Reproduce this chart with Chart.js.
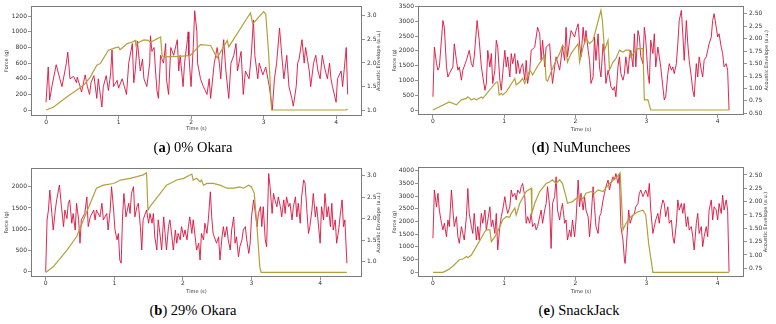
<!DOCTYPE html>
<html><head><meta charset="utf-8">
<script src="https://cdn.jsdelivr.net/npm/chart.js@4.4.1/dist/chart.umd.min.js"></script>
<style>
body{margin:0;width:776px;height:324px;background:#fff;position:relative;overflow:hidden}
.panel{position:absolute}
.cap{position:absolute;width:200px;font-family:"Liberation Serif",serif;font-size:14.5px;line-height:15px;text-align:center;color:#000;white-space:nowrap}
</style></head><body>
<div class="panel" style="left:0;top:0"><canvas id="cA" width="390" height="140"></canvas></div>
<div class="panel" style="left:390px;top:0"><canvas id="cD" width="386" height="140"></canvas></div>
<div class="panel" style="left:0;top:160px"><canvas id="cB" width="390" height="140"></canvas></div>
<div class="panel" style="left:390px;top:160px"><canvas id="cE" width="386" height="140"></canvas></div>
<div class="cap" style="left:93px;top:139.6px">(<b>a</b>) 0% Okara</div>
<div class="cap" style="left:481px;top:139.6px">(<b>d</b>) NuMunchees</div>
<div class="cap" style="left:93px;top:302.6px">(<b>b</b>) 29% Okara</div>
<div class="cap" style="left:479px;top:302.6px">(<b>e</b>) SnackJack</div>
<script>
// ---- tick labels ----
const timeTicks=[0,1,2,3,4];
const forceTicksA=[0,200,400,600,800,1000,1200];
const acousticTicksA=[1.0,1.5,2.0,2.5,3.0];
const forceTicksD=[0,500,1000,1500,2000,2500,3000,3500];
const acousticTicksD=[0.50,0.75,1.00,1.25,1.50,1.75,2.00,2.25,2.50];
const forceTicksB=[0,500,1000,1500,2000];
const acousticTicksB=[1.0,1.5,2.0,2.5,3.0];
const forceTicksE=[0,500,1000,1500,2000,2500,3000,3500,4000];
const acousticTicksE=[0.75,1.00,1.25,1.50,1.75,2.00,2.25,2.50];

// ---- (a) 0% Okara ----
const tA=[0,0.03,0.05,0.08,0.14,0.19,0.22,0.28,0.30,0.33,0.38,0.42,0.43,0.47,0.49,0.54,0.57,0.60,0.62,0.66,0.70,0.72,0.77,0.79,0.83,0.86,0.89,0.91,0.93,0.98,1.00,1.05,1.08,1.11,1.14,1.19,1.21,1.23,1.26,1.30,1.33,1.35,1.39,1.43,1.44,1.46,1.49,1.51,1.53,1.55,1.58,1.62,1.65,1.66,1.69,1.72,1.76,1.81,1.83,1.85,1.89,1.91,1.95,1.96,1.97,2.00,2.03,2.05,2.08,2.09,2.13,2.17,2.22,2.25,2.27,2.32,2.36,2.39,2.41,2.43,2.45,2.48,2.52,2.55,2.59,2.62,2.64,2.69,2.72,2.75,2.80,2.83,2.86,2.88,2.92,2.94,2.99,3.03,3.08,3.10,3.12,3.15,3.18,3.22,3.26,3.28,3.32,3.35,3.39,3.41,3.45,3.47,3.49,3.53,3.56,3.58,3.63,3.65,3.69,3.72,3.75,3.78,3.81,3.84,3.88,3.91,3.93,3.95,4.00,4.02,4.07,4.09,4.14,4.16];
const forceA=[100,550,130,300,580,400,300,600,740,400,430,350,420,300,230,450,300,200,350,440,150,400,40,300,440,250,460,770,300,380,280,400,300,200,600,850,350,500,880,500,650,400,300,600,950,750,800,500,250,150,700,600,850,400,200,800,700,900,500,700,300,600,900,1000,700,300,800,1270,1000,600,400,300,200,400,150,600,800,600,400,700,900,500,150,600,700,850,500,750,200,500,400,700,1150,700,400,600,450,550,300,150,0,400,600,1050,600,400,700,300,150,50,300,600,650,900,600,800,500,300,600,700,500,400,700,550,400,600,400,300,100,400,500,300,800,200];
const taA=[0,0.10,0.29,0.42,0.52,0.61,0.70,0.75,0.86,0.95,1.00,1.02,1.12,1.18,1.23,1.24,1.28,1.35,1.41,1.44,1.58,1.60,1.62,1.85,1.99,2.13,2.27,2.34,2.36,2.50,2.52,2.59,2.78,2.82,2.85,3.00,3.03,3.07,3.11,4.14,4.16];
const acousticA=[1.0,1.06,1.28,1.42,1.53,1.70,1.95,1.99,2.27,2.32,2.34,2.28,2.41,2.44,2.48,2.37,2.44,2.49,2.48,2.44,2.55,2.16,2.13,2.14,2.16,2.39,2.37,2.16,2.11,2.48,2.34,2.51,2.97,3.06,2.83,3.09,3.04,2.2,1.0,1.0,1.02];

// ---- (d) NuMunchees ----
const tD=[0,0.02,0.05,0.07,0.09,0.14,0.16,0.19,0.21,0.23,0.28,0.30,0.33,0.35,0.37,0.40,0.42,0.47,0.51,0.54,0.56,0.58,0.62,0.65,0.68,0.73,0.75,0.77,0.80,0.82,0.84,0.87,0.89,0.91,0.94,0.96,0.98,1.01,1.03,1.05,1.08,1.10,1.12,1.15,1.17,1.19,1.22,1.24,1.26,1.29,1.31,1.33,1.36,1.38,1.43,1.47,1.50,1.52,1.54,1.57,1.59,1.64,1.66,1.68,1.71,1.73,1.78,1.82,1.85,1.87,1.89,1.92,1.94,1.99,2.01,2.04,2.06,2.08,2.11,2.13,2.15,2.18,2.20,2.22,2.25,2.27,2.29,2.32,2.34,2.36,2.39,2.41,2.43,2.46,2.48,2.50,2.53,2.55,2.57,2.60,2.62,2.64,2.67,2.69,2.71,2.74,2.76,2.78,2.81,2.83,2.85,2.88,2.90,2.92,2.95,2.97,2.99,3.02,3.04,3.06,3.09,3.11,3.13,3.16,3.18,3.20,3.23,3.25,3.27,3.30,3.32,3.35,3.37,3.39,3.42,3.44,3.46,3.49,3.51,3.53,3.56,3.58,3.60,3.63,3.65,3.67,3.70,3.72,3.74,3.77,3.79,3.81,3.84,3.86,3.88,3.91,3.93,3.95,3.98,4.00,4.02,4.05,4.07,4.09,4.12,4.14,4.16];
const forceD=[450,2130,1570,1350,1460,3030,2800,1460,1120,1230,1460,2240,1680,1350,1460,1010,1350,1680,2020,1570,1460,1800,3030,2360,1460,670,900,2020,1460,1910,900,1350,2360,2130,1010,670,1230,2020,1460,1800,1120,1910,1570,1910,1230,1680,1230,1460,1570,1010,1680,900,1350,2020,2130,2800,2580,1680,2360,1460,2130,2240,1460,900,1460,1800,1350,2130,1680,2800,1800,2360,2690,2470,2690,2920,2240,1800,2800,2240,2690,2020,1680,900,1120,2470,1680,2580,1460,1120,2240,1800,900,1350,1120,790,670,790,450,1460,1800,1230,1010,1230,1800,1230,1800,2020,1460,2580,1460,2690,2470,1800,1570,2800,2360,1230,900,2360,1910,2580,1460,2130,1800,1460,790,340,450,1230,1570,1350,1460,1230,1570,2240,3030,3370,2580,1680,3030,2240,1680,1120,670,450,1570,1120,1800,1350,1120,1680,1800,2020,2240,2470,3030,3260,2800,2470,2580,2130,1910,1460,1570,1350,0];
const taD=[0,0.23,0.33,0.40,0.47,0.49,0.54,0.58,0.61,0.68,0.70,0.89,0.91,0.93,0.96,0.98,1.03,1.15,1.17,1.22,1.26,1.29,1.36,1.38,1.40,1.45,1.57,1.59,1.61,1.66,1.71,1.78,1.82,1.87,1.89,1.94,2.04,2.06,2.11,2.15,2.20,2.25,2.36,2.38,2.41,2.46,2.48,2.53,2.57,2.60,2.62,2.67,2.71,2.76,2.78,2.83,2.88,2.95,2.97,3.02,3.06,4.16];
const acousticD=[0.567,0.73,0.67,0.77,0.8,0.83,0.77,0.8,0.77,0.83,0.8,1.13,1.13,0.87,0.9,0.87,0.93,1.2,1.07,1.13,1.2,1.1,1.37,1.33,1.27,1.4,1.67,1.17,1.15,1.33,1.5,1.7,1.87,1.77,1.53,1.7,1.9,1.53,1.83,2.0,1.9,1.97,2.57,2.37,1.77,1.97,1.37,1.53,1.6,1.7,1.77,1.73,1.77,1.77,1.63,1.73,1.8,1.8,0.77,0.77,0.567,0.567];

// ---- (b) 29% Okara ----
const tB=[0,0.02,0.04,0.06,0.09,0.11,0.14,0.16,0.20,0.23,0.26,0.28,0.31,0.33,0.35,0.38,0.40,0.43,0.45,0.48,0.50,0.52,0.57,0.60,0.62,0.65,0.70,0.72,0.74,0.79,0.82,0.84,0.89,0.91,0.94,0.96,0.99,1.01,1.04,1.06,1.08,1.10,1.12,1.14,1.17,1.21,1.23,1.25,1.28,1.30,1.33,1.35,1.38,1.40,1.42,1.47,1.50,1.52,1.55,1.57,1.59,1.62,1.64,1.67,1.69,1.72,1.74,1.76,1.79,1.81,1.84,1.86,1.89,1.91,1.93,1.96,1.98,2.01,2.03,2.06,2.08,2.10,2.13,2.15,2.20,2.23,2.25,2.27,2.30,2.32,2.35,2.37,2.40,2.42,2.44,2.49,2.52,2.54,2.57,2.59,2.61,2.64,2.66,2.69,2.71,2.74,2.76,2.78,2.81,2.83,2.86,2.88,2.91,2.93,2.96,2.98,3.00,3.03,3.05,3.08,3.10,3.13,3.15,3.17,3.20,3.22,3.25,3.27,3.30,3.32,3.34,3.37,3.39,3.42,3.44,3.47,3.49,3.51,3.54,3.56,3.59,3.61,3.64,3.66,3.68,3.71,3.73,3.76,3.78,3.81,3.83,3.85,3.88,3.90,3.93,3.95,4.00,4.02,4.05,4.07,4.10,4.12,4.15,4.17,4.19,4.22,4.24,4.27,4.29,4.32,4.34,4.36,4.39];
const forceB=[0,1216,1450,1920,1370,980,1450,1690,2040,1530,1060,1450,1250,1610,1690,1140,1370,980,1610,1220,670,1220,1370,1760,1060,1290,1450,1220,1450,1290,1610,1220,1370,980,1450,2000,1450,980,750,900,275,200,1290,1840,1290,1610,1370,1840,2000,1290,1530,1610,1060,510,1220,1450,1140,1370,1140,1370,820,510,1220,820,510,1290,900,510,1060,1220,820,510,980,670,900,750,1060,820,980,750,1060,1290,900,1220,510,670,275,900,750,1140,900,1220,1880,1290,900,670,820,275,820,1060,820,1060,750,510,980,1290,670,820,350,590,750,980,1060,750,430,670,1290,1690,1450,1060,1370,1530,1060,1530,750,590,2310,2000,1370,1840,1690,1530,1760,1530,1290,1690,1370,1760,1530,1610,1220,1530,1760,1290,1610,1140,1760,2160,2080,1370,900,1060,1450,1840,1290,1530,670,1530,1220,1840,1290,1530,1060,1610,980,1220,670,980,1290,1690,1060,1220,200];
const taB=[0,0.11,0.31,0.45,0.55,0.65,0.74,0.84,0.99,1.09,1.23,1.33,1.42,1.47,1.49,1.52,1.67,1.76,1.91,2.01,2.13,2.15,2.20,2.25,2.27,2.30,2.35,2.44,2.54,2.64,2.74,2.83,2.88,2.96,3.00,3.04,3.08,3.12,3.14,4.39];
const acousticB=[0.75,0.88,1.27,1.58,1.97,2.36,2.71,2.78,2.82,2.9,2.94,2.98,3.02,3.07,2.2,2.28,2.59,2.78,2.9,2.94,3.04,2.9,2.94,2.86,2.9,2.78,2.82,2.82,2.78,2.71,2.71,2.74,2.71,2.78,2.74,2.59,1.81,0.88,0.75,0.75];

// ---- (e) SnackJack ----
const tE=[0,0.02,0.05,0.07,0.09,0.12,0.14,0.16,0.19,0.21,0.23,0.26,0.28,0.30,0.33,0.35,0.37,0.40,0.42,0.44,0.47,0.49,0.51,0.54,0.56,0.58,0.61,0.63,0.65,0.68,0.70,0.73,0.75,0.80,0.82,0.84,0.87,0.89,0.91,0.94,0.96,0.98,1.01,1.03,1.05,1.08,1.10,1.12,1.15,1.17,1.19,1.22,1.24,1.26,1.29,1.31,1.33,1.36,1.38,1.40,1.43,1.45,1.47,1.52,1.54,1.57,1.59,1.61,1.64,1.66,1.68,1.71,1.73,1.75,1.78,1.80,1.82,1.85,1.87,1.89,1.92,1.94,1.96,1.99,2.01,2.04,2.06,2.08,2.11,2.13,2.15,2.18,2.20,2.22,2.25,2.27,2.29,2.32,2.34,2.36,2.39,2.41,2.43,2.46,2.48,2.50,2.53,2.55,2.57,2.60,2.62,2.64,2.67,2.69,2.70,2.72,2.75,2.77,2.80,2.83,2.85,2.88,2.90,2.92,2.95,2.97,2.99,3.02,3.04,3.06,3.09,3.11,3.13,3.16,3.18,3.20,3.23,3.25,3.27,3.30,3.32,3.35,3.37,3.39,3.42,3.44,3.46,3.49,3.51,3.53,3.56,3.58,3.60,3.63,3.65,3.67,3.70,3.72,3.74,3.77,3.79,3.81,3.84,3.86,3.88,3.91,3.93,3.95,3.98,4.00,4.02,4.05,4.07,4.09,4.12,4.14,4.16];
const forceE=[1340,3240,2580,3110,2450,1930,1670,1930,1400,2060,1800,3240,2450,1800,2190,1400,1140,1800,1530,1270,2190,3300,2320,1800,1530,2320,1270,1800,1270,2320,1930,2450,1670,2580,1800,2060,1530,2320,880,1800,2190,2450,2980,2580,2320,2580,3240,2980,3110,2850,3240,3110,3370,3500,2980,1930,2190,1930,2320,1800,1930,1670,1800,2450,1930,2450,2710,3370,2580,940,2710,2980,3760,2450,2060,2450,2710,1930,2060,1270,1670,1400,2060,1400,2060,3630,2580,3110,2450,2980,2450,2190,1400,2060,3370,2580,1800,1530,2190,2320,2850,3110,3370,3630,3240,3500,3760,3630,3890,3500,3890,1800,1270,485,350,1140,2450,1930,2190,2320,2580,2710,3110,3240,2980,3110,3240,2980,3500,2450,1530,1800,2060,2320,1930,2450,2850,2710,2190,2580,1930,2060,1400,1140,1930,2850,2450,2710,2320,2710,1800,2190,1670,1800,1400,880,1930,2320,1530,1800,1010,1400,1800,1400,2450,2850,2060,2580,2450,2060,2710,2320,3040,2450,2850,2450,26];
const taE=[0,0.14,0.21,0.28,0.37,0.42,0.47,0.49,0.54,0.58,0.65,0.73,0.75,0.80,0.82,0.87,0.94,0.98,1.03,1.08,1.10,1.15,1.17,1.22,1.31,1.38,1.39,1.43,1.50,1.59,1.64,1.68,1.73,1.78,1.82,1.87,1.89,1.96,2.01,2.06,2.11,2.15,2.22,2.27,2.32,2.39,2.48,2.57,2.63,2.67,2.71,2.76,2.81,2.88,2.95,2.99,3.03,3.09,4.16];
const acousticE=[0.675,0.675,0.72,0.79,0.91,0.925,0.97,0.95,1.0,1.09,1.25,1.44,1.47,1.47,1.25,1.34,1.53,1.66,1.72,1.71,1.78,1.88,1.75,1.97,2.19,2.25,1.78,1.97,2.19,2.34,2.37,2.41,2.34,2.41,2.34,2.09,1.97,2.0,2.06,2.09,2.06,2.16,2.19,2.16,2.22,2.19,2.34,2.44,2.54,1.47,1.59,1.69,1.75,1.81,1.84,1.75,1.22,0.675,0.675];

const xLabel='Time (s)', yLabel='Force (g)', y2Label='Acoustic Envelope (a.u.)';

const RED='rgba(218,18,62,0.9)', OLIVE='#b3a03c', FONT='DejaVu Sans', TXT='#333', AX='#7a7a7a';
function pts(t,v){return t.map((x,i)=>({x:x,y:v[i]}));}
function fixTicks(arr){return function(s){s.ticks=arr.map(v=>({value:v}));};}

const frame={id:'frame',afterDatasetsDraw(c){const a=c.chartArea,ctx=c.ctx;ctx.save();ctx.strokeStyle=AX;ctx.lineWidth=1;
  ctx.strokeRect(Math.round(a.left)+0.5,Math.round(a.top)+0.5,Math.round(a.right-a.left)-1,Math.round(a.bottom-a.top)-1);ctx.restore();}};
const rtitle={id:'rtitle',afterDraw(c,args,o){const a=c.chartArea,ctx=c.ctx;ctx.save();ctx.translate(o.x,(a.top+a.bottom)/2);ctx.rotate(-Math.PI/2);
  ctx.font='5px "'+FONT+'"';ctx.fillStyle=TXT;ctx.textAlign='center';ctx.textBaseline='middle';ctx.fillText(o.text,0,0);ctx.restore();}};

function make(id,p){
  const tick={font:{family:FONT,size:6},color:TXT,autoSkip:false};
  const grid={drawOnChartArea:false,drawTicks:true,tickLength:3,color:AX,lineWidth:0.8};
  new Chart(document.getElementById(id),{
    type:'line',
    data:{datasets:[
      {data:pts(p.ta,p.a),yAxisID:'y2',borderColor:OLIVE,borderWidth:1.2,pointRadius:0,tension:0,order:0},
      {data:pts(p.t,p.f),yAxisID:'y',borderColor:RED,borderWidth:1,pointRadius:0,tension:0,order:1}
    ]},
    options:{responsive:false,animation:false,events:[],
      layout:{padding:{top:p.pt,left:0,right:0,bottom:0}},
      plugins:{legend:{display:false},tooltip:{enabled:false},rtitle:{x:p.rx,text:y2Label}},
      scales:{
        x:{type:'linear',min:p.x0,max:p.x1,afterFit(s){s.height=p.xh;},afterBuildTicks:fixTicks(timeTicks),
           ticks:Object.assign({},tick,{padding:0,maxRotation:0,callback:v=>String(v)}),grid:grid,border:{display:false},
           title:{display:true,text:xLabel,font:{family:FONT,size:5},color:TXT,padding:{top:0,bottom:p.xtp}}},
        y:{type:'linear',position:'left',min:p.y0,max:p.y1,afterFit(s){s.width=p.yw;},afterBuildTicks:fixTicks(p.yt),
           ticks:Object.assign({},tick,{padding:1,callback:v=>String(v)}),grid:grid,border:{display:false},
           title:{display:true,text:yLabel,font:{family:FONT,size:5},color:TXT,padding:{top:p.ytp,bottom:0}}},
        y2:{type:'linear',position:'right',min:p.z0,max:p.z1,afterFit(s){s.width=p.zw;},afterBuildTicks:fixTicks(p.zt),
           ticks:Object.assign({},tick,{padding:2,callback:v=>v.toFixed(p.zd)}),grid:grid,border:{display:false}}
      }},
    plugins:[frame,rtitle]
  });
}

make('cA',{t:tA,f:forceA,ta:taA,a:acousticA,yt:forceTicksA,zt:acousticTicksA,pt:5,xh:24,yw:31,zw:28,xtp:8.4,ytp:4,rx:379,
  x0:-0.2075,x1:4.3575,y0:-76,y1:1336,z0:0.873,z1:3.218,zd:1});
make('cD',{t:tD,f:forceD,ta:taD,a:acousticD,yt:forceTicksD,zt:acousticTicksD,pt:5,xh:25,yw:28,zw:32,xtp:7.7,ytp:1.7,rx:377,
  x0:-0.21,x1:4.37,y0:-168,y1:3534,z0:0.466,z1:2.666,zd:2});
make('cB',{t:tB,f:forceB,ta:taB,a:acousticB,yt:forceTicksB,zt:acousticTicksB,pt:8,xh:23,yw:31,zw:28,xtp:5.7,ytp:4,rx:379,
  x0:-0.214,x1:4.61,y0:-125,y1:2440,z0:0.644,z1:3.18,zd:1});
make('cE',{t:tE,f:forceE,ta:taE,a:acousticE,yt:forceTicksE,zt:acousticTicksE,pt:7,xh:23,yw:28,zw:32,xtp:5.7,ytp:1.7,rx:376,
  x0:-0.21,x1:4.37,y0:-185,y1:4146,z0:0.587,z1:2.65,zd:2});
</script>
</body></html>
